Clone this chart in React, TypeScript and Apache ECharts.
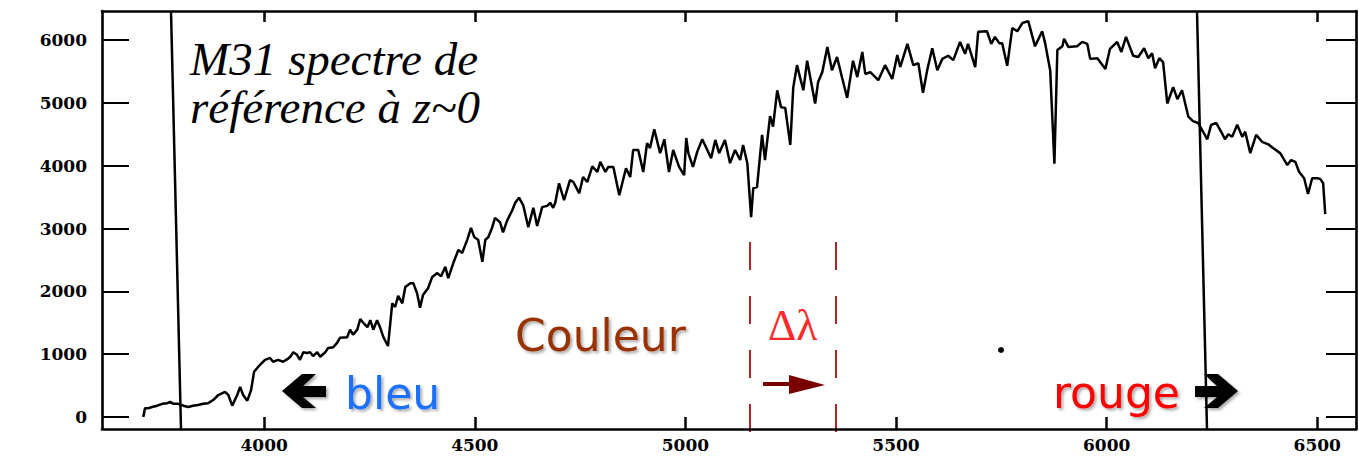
import React, { useEffect, useRef } from "react";
import * as echarts from "echarts";

// Wavelength (Å) and flux
const wavelength = [
  3713, 3717, 3725, 3734, 3746, 3758, 3770, 3777, 3784, 3796, 3808, 3820, 3831, 3843, 3855, 3867, 3879, 3891, 3907, 3915,
  3924, 3936, 3943, 3950, 3960, 3969, 3976, 3986, 4002, 4014, 4021, 4033, 4045, 4055, 4062, 4069, 4078, 4085, 4093, 4102,
  4109, 4116, 4126, 4133, 4145, 4152, 4164, 4173, 4180, 4197, 4204, 4211, 4221, 4228, 4235, 4245, 4252, 4259, 4268, 4275,
  4283, 4294, 4304, 4311, 4318, 4328, 4335, 4347, 4354, 4363, 4370, 4377, 4389, 4399, 4411, 4420, 4430, 4437, 4449, 4461,
  4470, 4482, 4491, 4499, 4508, 4518, 4525, 4532, 4541, 4548, 4560, 4567, 4577, 4589, 4596, 4605, 4615, 4627, 4639, 4648,
  4660, 4672, 4679, 4686, 4691, 4700, 4712, 4726, 4734, 4748, 4757, 4767, 4779, 4791, 4798, 4810, 4817, 4829, 4843, 4859,
  4869, 4876, 4888, 4900, 4909, 4916, 4926, 4940, 4950, 4961, 4971, 4985, 4997, 5002, 5007, 5018, 5028, 5040, 5052, 5061,
  5071, 5080, 5094, 5106, 5118, 5130, 5137, 5147, 5156, 5161, 5170, 5182, 5189, 5201, 5208, 5218, 5227, 5237, 5249, 5256,
  5265, 5272, 5280, 5289, 5308, 5315, 5325, 5337, 5348, 5360, 5372, 5384, 5398, 5408, 5420, 5427, 5439, 5458, 5474, 5491,
  5503, 5510, 5527, 5541, 5553, 5564, 5574, 5586, 5598, 5610, 5624, 5636, 5652, 5664, 5671, 5688, 5695, 5716, 5726, 5735,
  5745, 5752, 5764, 5776, 5788, 5800, 5814, 5830, 5847, 5854, 5866, 5876, 5883, 5895, 5899, 5909, 5930, 5942, 5954, 5961,
  5978, 5997, 6008, 6025, 6035, 6046, 6063, 6075, 6089, 6099, 6108, 6115, 6125, 6134, 6144, 6158, 6168, 6179, 6194, 6205,
  6217, 6229, 6239, 6248, 6260, 6272, 6281, 6289, 6298, 6310, 6322, 6329, 6341, 6355, 6369, 6384, 6395, 6412, 6429, 6438,
  6448, 6457, 6469, 6478, 6488, 6500, 6507, 6514, 6519,
];

const flux = [
  0, 140, 140, 160, 180, 210, 220, 240, 210, 210, 180, 160, 180, 190, 210, 220, 270, 350, 400, 350,
  180, 350, 480, 350, 260, 430, 720, 800, 910, 940, 880, 910, 880, 920, 960, 1030, 990, 910, 1030, 1020,
  1030, 970, 1030, 960, 1030, 1100, 1110, 1180, 1260, 1270, 1390, 1310, 1390, 1560, 1500, 1430, 1540, 1390, 1540, 1430,
  1270, 1130, 1810, 1750, 1930, 1810, 2070, 2130, 2130, 1970, 1740, 1940, 2050, 2230, 2290, 2240, 2390, 2210, 2450, 2660,
  2610, 2820, 3010, 2860, 2820, 2470, 2820, 2860, 3010, 3170, 3100, 2940, 3130, 3290, 3410, 3490, 3370, 3020, 3330, 3040,
  3340, 3360, 3410, 3330, 3410, 3720, 3450, 3770, 3740, 3560, 3820, 3740, 3990, 3900, 4060, 3900, 3980, 3980, 3530, 3960,
  3820, 4250, 4250, 3900, 4360, 4280, 4580, 4200, 4420, 3900, 4250, 3980, 3850, 4440, 4200, 3980, 4220, 4420, 4250, 4120,
  4410, 4200, 4410, 4040, 4250, 4090, 4330, 4040, 3180, 3640, 3660, 4490, 4090, 4790, 4620, 5200, 4930, 4920, 4330, 5240,
  5600, 5410, 5200, 5670, 4990, 5330, 5490, 5890, 5520, 5730, 5400, 5080, 5670, 5410, 5810, 5460, 5490, 5360, 5600, 5380,
  5760, 5570, 5940, 5600, 5630, 5160, 5520, 5870, 5520, 5700, 5750, 5680, 5970, 5780, 5940, 5570, 6130, 6140, 5940, 6050,
  5950, 5950, 5590, 6190, 6140, 6270, 6300, 5900, 6140, 5950, 5520, 4030, 5840, 5900, 6020, 5890, 5900, 5970, 5940, 5700,
  5710, 5540, 5860, 5970, 5810, 6050, 5750, 5730, 5870, 5710, 5790, 5550, 5710, 5650, 4990, 5250, 5060, 5200, 4780, 4710,
  4680, 4540, 4420, 4650, 4680, 4540, 4420, 4500, 4460, 4650, 4460, 4540, 4200, 4490, 4380, 4340, 4280, 4200, 4010, 4090,
  4060, 3900, 3800, 3550, 3800, 3800, 3790, 3720, 3230,
];

const xTicks = [4000, 4500, 5000, 5500, 6000, 6500];
const yTicks = [0, 1000, 2000, 3000, 4000, 5000, 6000];

const X_MIN = 3615;
const X_MAX = 6592;
const Y_MIN = -191;
const Y_MAX = 6462;

const AXIS_LINE = { show: true, onZero: false, lineStyle: { color: "#000", width: 2.6 } };

const shadowText = {
  textShadowColor: "rgba(0,0,0,0.35)",
  textShadowBlur: 3,
  textShadowOffsetX: 2,
  textShadowOffsetY: 2,
};

const TICK_LABEL = {
  show: true,
  color: "#000",
  fontFamily: "DejaVu Serif",
  fontWeight: "bold",
  fontSize: 17,
  formatter: (v: number) => String(v),
};

export default function App() {
  const ref = useRef<HTMLDivElement>(null);

  useEffect(() => {
    if (!ref.current) return;
    const chart = echarts.init(ref.current, undefined, { renderer: "svg" });
    const data = wavelength.map((w, i) => [w, flux[i]]);

    const option: any = {
      animation: false,
      backgroundColor: "#ffffff",
      grid: { left: 102, right: 3, top: 11, bottom: 29, containLabel: false },
      xAxis: [
        {
          type: "value",
          position: "bottom",
          min: X_MIN,
          max: X_MAX,
          axisLine: AXIS_LINE,
          axisTick: { show: true, inside: true, length: 12, customValues: xTicks, lineStyle: { color: "#000", width: 2.5 } },
          axisLabel: { ...TICK_LABEL, customValues: xTicks, margin: 7 },
          splitLine: { show: false },
        },
        {
          type: "value",
          position: "top",
          min: X_MIN,
          max: X_MAX,
          axisLine: AXIS_LINE,
          axisTick: { show: true, inside: true, length: 11, customValues: xTicks, lineStyle: { color: "#000", width: 2.5 } },
          axisLabel: { show: false },
          splitLine: { show: false },
        },
      ],
      yAxis: [
        {
          type: "value",
          position: "left",
          min: Y_MIN,
          max: Y_MAX,
          axisLine: AXIS_LINE,
          axisTick: { show: true, inside: true, length: 27, customValues: yTicks, lineStyle: { color: "#000", width: 2 } },
          axisLabel: { ...TICK_LABEL, customValues: yTicks, margin: 15 },
          splitLine: { show: false },
        },
        {
          type: "value",
          position: "right",
          min: Y_MIN,
          max: Y_MAX,
          axisLine: AXIS_LINE,
          axisTick: { show: true, inside: true, length: 30, customValues: yTicks, lineStyle: { color: "#000", width: 2 } },
          axisLabel: { show: false },
          splitLine: { show: false },
        },
      ],
      series: [
        {
          type: "line",
          data,
          xAxisIndex: 0,
          yAxisIndex: 0,
          symbol: "none",
          showSymbol: false,
          smooth: false,
          lineStyle: { color: "#000", width: 2.5 },
        },
      ],
      graphic: [
        // vertical black lines (window limits)
        { type: "line", shape: { x1: 171, y1: 11, x2: 181, y2: 429 }, style: { stroke: "#000", lineWidth: 2.5 } },
        { type: "line", shape: { x1: 1197, y1: 11, x2: 1207, y2: 429 }, style: { stroke: "#000", lineWidth: 2.5 } },
        // red dashed lines
        { type: "line", shape: { x1: 750, y1: 242, x2: 750, y2: 433 }, style: { stroke: "#b22424", lineWidth: 2, lineDash: [28, 26] } },
        { type: "line", shape: { x1: 836, y1: 242, x2: 836, y2: 458 }, style: { stroke: "#b22424", lineWidth: 2, lineDash: [28, 26] } },
        // dark red arrow
        { type: "line", shape: { x1: 763, y1: 384, x2: 795, y2: 384 }, style: { stroke: "#7a0000", lineWidth: 4 } },
        { type: "polygon", shape: { points: [[789, 375], [825, 385], [789, 394]] }, style: { fill: "#7a0000" } },
        // black block arrows
        {
          type: "polygon",
          shape: { points: [[282, 391], [302, 374], [316, 374], [303, 386], [326, 386], [326, 397], [303, 397], [316, 408], [302, 408]] },
          style: { fill: "#000", shadowColor: "rgba(0,0,0,0.35)", shadowBlur: 3, shadowOffsetX: 2, shadowOffsetY: 2 },
        },
        {
          type: "polygon",
          shape: { points: [[1238, 391], [1218, 374], [1204, 374], [1217, 386], [1195, 386], [1195, 397], [1217, 397], [1204, 408], [1218, 408]] },
          style: { fill: "#000", shadowColor: "rgba(0,0,0,0.35)", shadowBlur: 3, shadowOffsetX: 2, shadowOffsetY: 2 },
        },
        // dot
        { type: "circle", shape: { cx: 1001, cy: 350, r: 3 }, style: { fill: "#000" } },
        // texts
        {
          type: "text",
          x: 190,
          y: 83,
          style: {
            text: "M31 spectre de\nréférence à z~0",
            font: 'italic 47px "Liberation Serif"',
            lineHeight: 48,
            fill: "#000",
            textAlign: "left",
            textVerticalAlign: "middle",
          },
        },
        {
          type: "text",
          x: 515,
          y: 335,
          style: { text: "Couleur", font: '44px "DejaVu Sans"', fill: "#993300", textAlign: "left", textVerticalAlign: "middle", ...shadowText },
        },
        {
          type: "text",
          x: 768,
          y: 325,
          style: { text: "Δλ", font: '44px "Liberation Serif"', fill: "#ff2a2a", textAlign: "left", textVerticalAlign: "middle" },
        },
        {
          type: "text",
          x: 345,
          y: 393,
          style: { text: "bleu", font: '44px "DejaVu Sans"', fill: "#1a6fff", textAlign: "left", textVerticalAlign: "middle", ...shadowText },
        },
        {
          type: "text",
          x: 1053,
          y: 392,
          style: { text: "rouge", font: '44px "DejaVu Sans"', fill: "#ff0000", textAlign: "left", textVerticalAlign: "middle", ...shadowText },
        },
      ],
    };

    chart.setOption(option);
    return () => chart.dispose();
  }, []);

  return (
    <div
      ref={ref}
      style={{ position: "fixed", left: 0, top: 0, width: "1359px", height: "458px", background: "#fff" }}
    />
  );
}
